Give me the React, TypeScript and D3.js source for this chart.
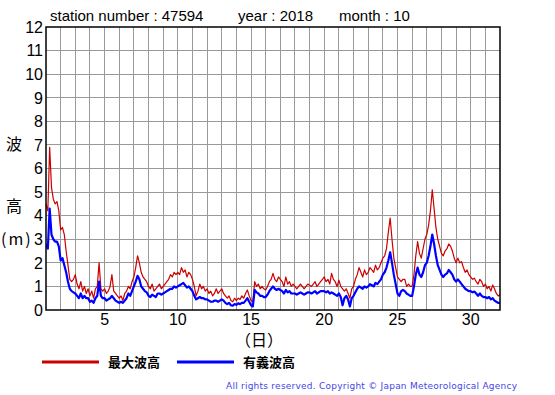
import * as d3 from "d3";

const WIDTH = 555;
const HEIGHT = 395;
const MARGIN = { top: 27, right: 55, bottom: 85, left: 46 };

const TITLE_PARTS = [
  { text: "station number : 47594", x: 50 },
  { text: "year : 2018", x: 238 },
  { text: "month : 10", x: 339 },
];
const X_TICKS = [5, 10, 15, 20, 25, 30];
const Y_TICKS = [0, 1, 2, 3, 4, 5, 6, 7, 8, 9, 10, 11, 12];
const X_DOMAIN = [1, 32];
const Y_DOMAIN = [0, 12];

// 3-hourly readings, starting 1st 00h
const STEPS_PER_DAY = 8;

// 最大波高 (m)
const MAX_WAVE = [
  4.5, 4.2, 6.9, 5.2, 4.7, 4.5, 4.6, 4.2,
  3.4, 3.5, 3.2, 2.5, 1.9, 1.3, 1.2, 1.3,
  1.5, 1.1, 0.9, 1.2, 0.8, 1.0, 0.7, 0.9,
  0.6, 0.8, 0.5, 0.9, 1.0, 2.0, 0.9, 0.8,
  0.9, 0.7, 0.8, 1.0, 1.5, 0.8, 0.7, 0.6,
  0.5, 0.6, 0.4, 0.7, 0.8, 1.0, 0.9, 1.2,
  1.4, 1.8, 2.3, 2.0, 1.6, 1.4, 1.3, 1.2,
  1.0, 0.9, 1.1, 0.8, 0.9, 1.0, 1.1, 0.9,
  1.0, 1.1, 1.2, 1.3, 1.5, 1.4, 1.6, 1.5,
  1.6, 1.5, 1.8, 1.6, 1.7, 1.4, 1.6, 1.5,
  1.3, 1.0, 0.6, 0.8, 1.1, 0.9, 1.0, 0.8,
  0.9, 0.7, 0.8, 0.6, 0.7, 0.9, 0.7, 0.8,
  0.9, 0.7, 0.6, 0.5, 0.6, 0.4, 0.35, 0.5,
  0.4, 0.5, 0.45, 0.6, 0.5, 0.7, 0.85, 0.6,
  0.4, 0.35, 1.2, 1.0, 1.1, 0.9, 1.0, 0.9,
  0.85, 1.0, 1.2, 1.3, 1.55, 1.3, 1.2, 1.4,
  1.3, 1.2, 1.0, 1.4, 1.1, 1.2, 1.0, 1.1,
  1.0, 0.9, 1.0, 1.1, 1.0, 0.9, 1.0, 1.1,
  1.05, 1.0, 1.1, 1.2, 1.0, 1.1, 1.2, 1.3,
  1.4, 1.2, 1.3, 1.1, 1.55, 1.3, 1.2, 1.0,
  1.27, 1.0, 0.9, 0.8, 0.9, 0.7, 0.5, 0.9,
  1.0, 1.3, 1.5, 1.8, 1.6, 1.4, 1.7, 1.5,
  1.6, 1.8, 1.7, 1.6, 1.9, 1.7, 1.8, 2.0,
  2.2, 2.3, 2.6, 3.3, 3.9, 3.0, 2.2, 1.8,
  1.4, 1.3, 1.2, 1.3, 1.3, 1.0, 1.1, 1.0,
  1.0, 1.5, 2.3, 2.9, 2.4, 2.2, 2.6, 3.0,
  3.2, 3.6, 4.2, 5.1, 4.3, 3.5, 3.0, 2.7,
  2.4, 2.3, 2.5, 2.6, 2.8, 2.7, 2.5, 2.2,
  2.0, 2.2, 2.0, 2.05, 1.8, 1.6, 1.7, 1.5,
  1.4, 1.3, 1.35, 1.2, 1.1, 1.3, 1.2, 1.0,
  1.1, 0.9, 1.0, 0.8, 1.06, 0.9, 0.7, 0.6,
  0.64,
];

// 有義波高 (m)
const SIG_WAVE = [
  2.8, 2.6, 4.3, 3.2, 3.0, 2.9, 2.9, 2.7,
  2.1, 2.2, 1.9, 1.6, 1.2, 0.9, 0.8, 0.75,
  0.7, 0.6, 0.5, 0.7, 0.5, 0.6, 0.5, 0.5,
  0.35, 0.4, 0.3, 0.5, 0.6, 1.2, 0.6, 0.5,
  0.5, 0.4, 0.45, 0.5, 0.6, 0.5, 0.4, 0.35,
  0.3, 0.35, 0.3, 0.4, 0.5, 0.7, 0.6, 0.8,
  1.0, 1.2, 1.45, 1.3, 1.0, 0.9, 0.8, 0.75,
  0.6, 0.55, 0.65, 0.6, 0.55, 0.7, 0.7, 0.65,
  0.7, 0.75, 0.8, 0.85, 0.9, 0.9, 1.0, 0.95,
  1.0, 1.05, 1.1, 1.15, 1.05, 0.95, 1.0, 0.9,
  0.8, 0.6, 0.45, 0.5, 0.55, 0.5, 0.5, 0.45,
  0.45, 0.4, 0.35, 0.35, 0.4, 0.4, 0.35, 0.4,
  0.45, 0.4, 0.3, 0.25, 0.3, 0.2, 0.18, 0.25,
  0.22, 0.28, 0.25, 0.3, 0.3, 0.4, 0.5, 0.35,
  0.2, 0.15, 0.85, 0.75, 0.7, 0.6, 0.6, 0.55,
  0.55, 0.65, 0.8, 0.9, 1.0, 0.9, 0.85, 0.9,
  0.85, 0.8, 0.7, 0.85, 0.75, 0.8, 0.7, 0.7,
  0.7, 0.65, 0.7, 0.75, 0.7, 0.65, 0.7, 0.75,
  0.75, 0.7, 0.75, 0.8, 0.7, 0.75, 0.8, 0.8,
  0.8, 0.75, 0.8, 0.7, 0.75, 0.7, 0.65, 0.6,
  0.7, 0.55, 0.2, 0.5, 0.6, 0.45, 0.15, 0.5,
  0.6, 0.75, 0.9, 1.0, 0.95, 0.9, 1.0, 0.95,
  1.0, 1.1, 1.05, 1.0, 1.15, 1.1, 1.2, 1.3,
  1.5, 1.6, 1.8, 2.1, 2.45, 2.0, 1.5, 1.1,
  0.7, 0.6, 0.8, 0.85, 0.8, 0.7, 0.65, 0.6,
  0.6, 1.0, 1.5, 1.8, 1.5, 1.4, 1.6, 1.9,
  2.0, 2.3, 2.7, 3.2, 2.8, 2.3, 1.9, 1.7,
  1.5, 1.4, 1.5, 1.55, 1.7, 1.6, 1.5, 1.3,
  1.2, 1.3, 1.2, 1.1, 1.0, 0.9, 0.85, 0.8,
  0.8, 0.75, 0.78, 0.7, 0.6, 0.7, 0.6, 0.55,
  0.55, 0.5, 0.55, 0.45, 0.5, 0.4, 0.35, 0.3,
  0.3,
];

const SERIES = [
  { name: "最大波高", values: MAX_WAVE, color: "#cc0000", width: 1.2 },
  { name: "有義波高", values: SIG_WAVE, color: "#0000ff", width: 2.2 },
];

const JP_FONT = "'Noto Sans CJK JP', sans-serif";
const LATIN_FONT = "'Liberation Sans', Arial, sans-serif";

export default function App() {
  const x = d3
    .scaleLinear()
    .domain(X_DOMAIN)
    .range([MARGIN.left, WIDTH - MARGIN.right]);
  const y = d3
    .scaleLinear()
    .domain(Y_DOMAIN)
    .range([HEIGHT - MARGIN.bottom, MARGIN.top]);

  const line = d3
    .line<number>()
    .x((_, i) => x(X_DOMAIN[0] + i / STEPS_PER_DAY))
    .y((d) => y(d));

  const days = d3.range(X_DOMAIN[0] + 1, X_DOMAIN[1]);
  const [x0, x1] = x.range();
  const [y0, y1] = y.range();

  return (
    <svg
      width={WIDTH}
      height={HEIGHT}
      style={{ position: "absolute", left: 0, top: 0, background: "#fff" }}
    >
      {/* title */}
      {TITLE_PARTS.map((t) => (
        <text
          key={t.text}
          x={t.x}
          y={21}
          fontFamily={LATIN_FONT}
          fontSize={15}
          fill="#000"
        >
          {t.text}
        </text>
      ))}

      {/* grid */}
      <g stroke="#999" strokeWidth={1} shapeRendering="crispEdges">
        {days.map((d) => (
          <line key={`v${d}`} x1={x(d)} x2={x(d)} y1={y1} y2={y0} />
        ))}
        {Y_TICKS.slice(1, -1).map((v) => (
          <line key={`h${v}`} x1={x0} x2={x1} y1={y(v)} y2={y(v)} />
        ))}
      </g>

      {/* series */}
      <defs>
        <clipPath id="plot-clip">
          <rect x={x0} y={y1} width={x1 - x0} height={y0 - y1} />
        </clipPath>
      </defs>
      <g clipPath="url(#plot-clip)">
        {SERIES.map((s) => (
          <path
            key={s.name}
            d={line(s.values) ?? ""}
            fill="none"
            stroke={s.color}
            strokeWidth={s.width}
            strokeLinejoin="round"
          />
        ))}
      </g>

      {/* frame */}
      <rect
        x={x0}
        y={y1}
        width={x1 - x0}
        height={y0 - y1}
        fill="none"
        stroke="#000"
        strokeWidth={1.5}
      />

      {/* y ticks */}
      {Y_TICKS.map((v) => (
        <text
          key={`yt${v}`}
          x={x0 - 3}
          y={y(v)}
          dy="0.36em"
          textAnchor="end"
          fontFamily={LATIN_FONT}
          fontSize={16}
        >
          {v}
        </text>
      ))}

      {/* x ticks */}
      {X_TICKS.map((v) => (
        <text
          key={`xt${v}`}
          x={x(v)}
          y={y0 + 15}
          textAnchor="middle"
          fontFamily={LATIN_FONT}
          fontSize={16}
        >
          {v}
        </text>
      ))}

      {/* axis titles */}
      <text x={259} y={346} textAnchor="middle" fontFamily={JP_FONT} fontSize={16}>
        （日）
      </text>
      <g fontFamily={JP_FONT} fontSize={16}>
        <text x={14} y={150} textAnchor="middle">波</text>
        <text x={14} y={212} textAnchor="middle">高</text>
        <text x={1} y={245} letterSpacing={2}>(m)</text>
      </g>

      {/* legend */}
      {SERIES.map((s, i) => {
        const lx = 42 + i * 135;
        return (
          <g key={`lg${s.name}`}>
            <line
              x1={lx}
              x2={lx + 57}
              y1={362}
              y2={362}
              stroke={s.color}
              strokeWidth={3}
            />
            <text
              x={lx + 66}
              y={367}
              fontFamily={JP_FONT}
              fontSize={13}
              fontWeight="bold"
            >
              {s.name}
            </text>
          </g>
        );
      })}

      {/* footer */}
      <text
        x={226}
        y={389}
        fontFamily="'DejaVu Sans', sans-serif"
        fontSize={9}
        fill="#4646e6"
        textLength={291}
        lengthAdjust="spacing"
      >
        All rights reserved. Copyright © Japan Meteorological Agency
      </text>
    </svg>
  );
}
